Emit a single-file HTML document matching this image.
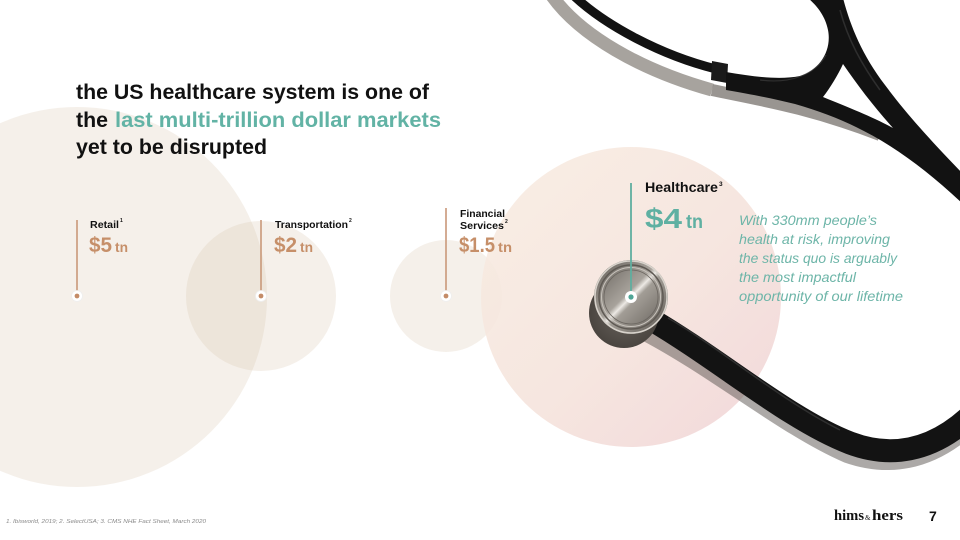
<!DOCTYPE html>
<html><head><meta charset="utf-8">
<style>
html,body{margin:0;padding:0;background:#fff;}
svg{display:block;}
text{font-family:"Liberation Sans",sans-serif;}
</style></head>
<body>
<svg width="960" height="540" viewBox="0 0 960 540" xmlns="http://www.w3.org/2000/svg">
<defs>
  <linearGradient id="hc" x1="0" y1="0" x2="1" y2="1">
    <stop offset="0" stop-color="#f8ede2"/>
    <stop offset="0.55" stop-color="#f5e3dc"/>
    <stop offset="1" stop-color="#f0d3d6"/>
  </linearGradient>
  <linearGradient id="metal" x1="0" y1="0" x2="1" y2="1">
    <stop offset="0" stop-color="#5f5a54"/>
    <stop offset="0.45" stop-color="#a8a39c"/>
    <stop offset="0.5" stop-color="#ece9e4"/>
    <stop offset="0.55" stop-color="#a29d96"/>
    <stop offset="1" stop-color="#5a554f"/>
  </linearGradient>
  <radialGradient id="tubeShade" cx="0.5" cy="0.5" r="0.5">
    <stop offset="0" stop-color="#6a645e"/>
    <stop offset="1" stop-color="#4a4540"/>
  </radialGradient>
</defs>

<!-- background circles -->
<circle cx="77" cy="297" r="190" fill="#d9c2ad" fill-opacity="0.25"/>
<circle cx="261" cy="296" r="75" fill="#d9c2ad" fill-opacity="0.25"/>
<circle cx="446" cy="296" r="56" fill="#d9c2ad" fill-opacity="0.25"/>
<circle cx="631" cy="297" r="150" fill="url(#hc)" fill-opacity="0.9"/>

<!-- title -->
<text x="76" y="99" font-size="21" font-weight="bold" fill="#111" textLength="353" lengthAdjust="spacingAndGlyphs">the US healthcare system is one of</text>
<text x="76" y="127" font-size="21" font-weight="bold" fill="#111" textLength="32" lengthAdjust="spacingAndGlyphs">the</text>
<text x="115" y="127" font-size="21" font-weight="bold" fill="#62b3a5" textLength="326" lengthAdjust="spacingAndGlyphs">last multi-trillion dollar markets</text>
<text x="76" y="154" font-size="21" font-weight="bold" fill="#111" textLength="191" lengthAdjust="spacingAndGlyphs">yet to be disrupted</text>

<!-- Retail -->
<line x1="77" y1="220" x2="77" y2="292" stroke="#c9987a" stroke-width="1.6"/>
<circle cx="77" cy="296" r="5.5" fill="#fff" stroke="#eee" stroke-width="0.8"/>
<circle cx="77" cy="296" r="2.4" fill="#c48c68"/>
<text x="90" y="228" font-size="10.5" font-weight="bold" fill="#111" textLength="29" lengthAdjust="spacingAndGlyphs">Retail</text>
<text x="120" y="222" font-size="5" font-weight="bold" fill="#111">1</text>
<text x="89" y="252" font-size="21" font-weight="bold" fill="#c68f69" textLength="23" lengthAdjust="spacingAndGlyphs">$5</text>
<text x="115" y="252" font-size="14" font-weight="bold" fill="#c68f69" textLength="13" lengthAdjust="spacingAndGlyphs">tn</text>

<!-- Transportation -->
<line x1="261" y1="220" x2="261" y2="292" stroke="#c9987a" stroke-width="1.6"/>
<circle cx="261" cy="296" r="5.5" fill="#fff" stroke="#eee" stroke-width="0.8"/>
<circle cx="261" cy="296" r="2.4" fill="#c48c68"/>
<text x="275" y="228" font-size="10.5" font-weight="bold" fill="#111" textLength="73" lengthAdjust="spacingAndGlyphs">Transportation</text>
<text x="349" y="222" font-size="5" font-weight="bold" fill="#111">2</text>
<text x="274" y="252" font-size="21" font-weight="bold" fill="#c68f69" textLength="23" lengthAdjust="spacingAndGlyphs">$2</text>
<text x="300" y="252" font-size="14" font-weight="bold" fill="#c68f69" textLength="13" lengthAdjust="spacingAndGlyphs">tn</text>

<!-- Financial -->
<line x1="446" y1="208" x2="446" y2="292" stroke="#c9987a" stroke-width="1.6"/>
<circle cx="446" cy="296" r="5.5" fill="#fff" stroke="#eee" stroke-width="0.8"/>
<circle cx="446" cy="296" r="2.4" fill="#c48c68"/>
<text x="460" y="217" font-size="10.5" font-weight="bold" fill="#111" textLength="45" lengthAdjust="spacingAndGlyphs">Financial</text>
<text x="460" y="229" font-size="10.5" font-weight="bold" fill="#111" textLength="44" lengthAdjust="spacingAndGlyphs">Services</text>
<text x="505" y="223" font-size="5" font-weight="bold" fill="#111">2</text>
<text x="459" y="252" font-size="21" font-weight="bold" fill="#c68f69" textLength="36" lengthAdjust="spacingAndGlyphs">$1.5</text>
<text x="498" y="252" font-size="14" font-weight="bold" fill="#c68f69" textLength="14" lengthAdjust="spacingAndGlyphs">tn</text>

<!-- Stethoscope top shadows -->
<path d="M 552 -4 C 580 35, 640 70, 712 90" fill="none" stroke="#8a847e" stroke-width="13" stroke-opacity="0.75"/>
<path d="M 712 90 C 760 100, 810 108, 880 135" fill="none" stroke="#6e6862" stroke-width="12" stroke-opacity="0.7"/>

<!-- thin tube -->
<path d="M 574 -4 C 605 25, 660 55, 716 69" fill="none" stroke="#121212" stroke-width="9"/>
<!-- sleeve -->
<path d="M 712 61 L 728 64 L 727 83 L 711 80 Z" fill="#1a1a1a"/>

<!-- Y shape -->
<path fill-rule="evenodd" fill="#121212" d="
M 808 -2 L 843 -2
C 850 25, 862 55, 885 85
C 905 112, 930 140, 965 176
L 965 206
C 940 182, 915 162, 890 146
C 860 127, 830 114, 795 104
C 775 99, 755 95, 726 90
L 726 72
C 755 77, 780 80, 800 76
C 820 70, 832 50, 828 30
C 825 15, 816 5, 808 -2 Z
M 843 64 C 838 75, 830 88, 823 97 C 850 108, 875 118, 893 128 C 875 108, 858 86, 843 64 Z"/>
<!-- highlights on Y -->
<path d="M 840 10 C 848 40, 862 65, 880 90" fill="none" stroke="#3a3a3a" stroke-width="1.5" opacity="0.7"/>
<path d="M 760 80 C 790 84, 815 75, 826 55" fill="none" stroke="#444" stroke-width="1.2" opacity="0.6"/>

<!-- chestpiece tube -->
<path d="M 650 325 C 720 362, 790 420, 850 446 C 890 460, 930 454, 968 420" fill="none" stroke="#5a544f" stroke-width="24" stroke-opacity="0.5" transform="translate(-2,5)"/>
<path d="M 652 320 C 720 360, 790 420, 850 443 C 890 458, 930 452, 968 418" fill="none" stroke="#131313" stroke-width="23"/>
<path d="M 668 318 C 720 348, 780 400, 840 430" fill="none" stroke="#3c3c3c" stroke-width="1.5" opacity="0.7"/>

<!-- chestpiece -->
<circle cx="624" cy="313" r="35" fill="url(#tubeShade)"/>
<circle cx="631" cy="297" r="37" fill="url(#metal)"/>
<circle cx="631" cy="297" r="36" fill="none" stroke="#d8d3cc" stroke-width="1.5"/>
<circle cx="631" cy="297" r="32" fill="none" stroke="#5e5953" stroke-width="1.5"/>
<circle cx="631" cy="297" r="29.5" fill="none" stroke="#c8c3bc" stroke-width="1"/>
<circle cx="631" cy="297" r="27" fill="none" stroke="#6a655f" stroke-width="0.8"/>

<!-- Healthcare -->
<line x1="631" y1="183" x2="631" y2="292" stroke="#5fae9f" stroke-width="1.8"/>
<circle cx="631" cy="297" r="6" fill="#fff"/>
<circle cx="631" cy="297" r="2.6" fill="#4fa596"/>
<text x="645" y="192" font-size="14" font-weight="bold" fill="#111" textLength="73" lengthAdjust="spacingAndGlyphs">Healthcare</text>
<text x="719" y="186" font-size="6.5" font-weight="bold" fill="#111">3</text>
<text x="645" y="228" font-size="28" font-weight="bold" fill="#5fb0a2" textLength="37" lengthAdjust="spacingAndGlyphs">$4</text>
<text x="686" y="228" font-size="19" font-weight="bold" fill="#5fb0a2" textLength="17" lengthAdjust="spacingAndGlyphs">tn</text>

<g font-size="14" font-style="italic" fill="#6db5a8">
<text x="739" y="225" textLength="138" lengthAdjust="spacingAndGlyphs">With 330mm people’s</text>
<text x="739" y="244" textLength="151" lengthAdjust="spacingAndGlyphs">health at risk, improving</text>
<text x="739" y="263" textLength="158" lengthAdjust="spacingAndGlyphs">the status quo is arguably</text>
<text x="739" y="282" textLength="117" lengthAdjust="spacingAndGlyphs">the most impactful</text>
<text x="739" y="301" textLength="164" lengthAdjust="spacingAndGlyphs">opportunity of our lifetime</text>
</g>

<!-- footer -->
<text x="6" y="523" font-size="5.5" font-style="italic" fill="#8a8a8a" textLength="200" lengthAdjust="spacingAndGlyphs">1. Ibisworld, 2019; 2. SelectUSA; 3. CMS NHE Fact Sheet, March 2020</text>
<text x="834" y="520" font-family="Liberation Serif, serif" font-size="15" font-weight="bold" fill="#111" textLength="30" lengthAdjust="spacingAndGlyphs" style="font-family:'Liberation Serif',serif">hims</text>
<text x="865" y="520" font-size="7" fill="#111" style="font-family:'Liberation Serif',serif">&amp;</text>
<text x="872" y="520" font-size="15" font-weight="bold" fill="#111" textLength="31" lengthAdjust="spacingAndGlyphs" style="font-family:'Liberation Serif',serif">hers</text>
<text x="929" y="521" font-size="14" font-weight="bold" fill="#111">7</text>
</svg>
</body></html>
